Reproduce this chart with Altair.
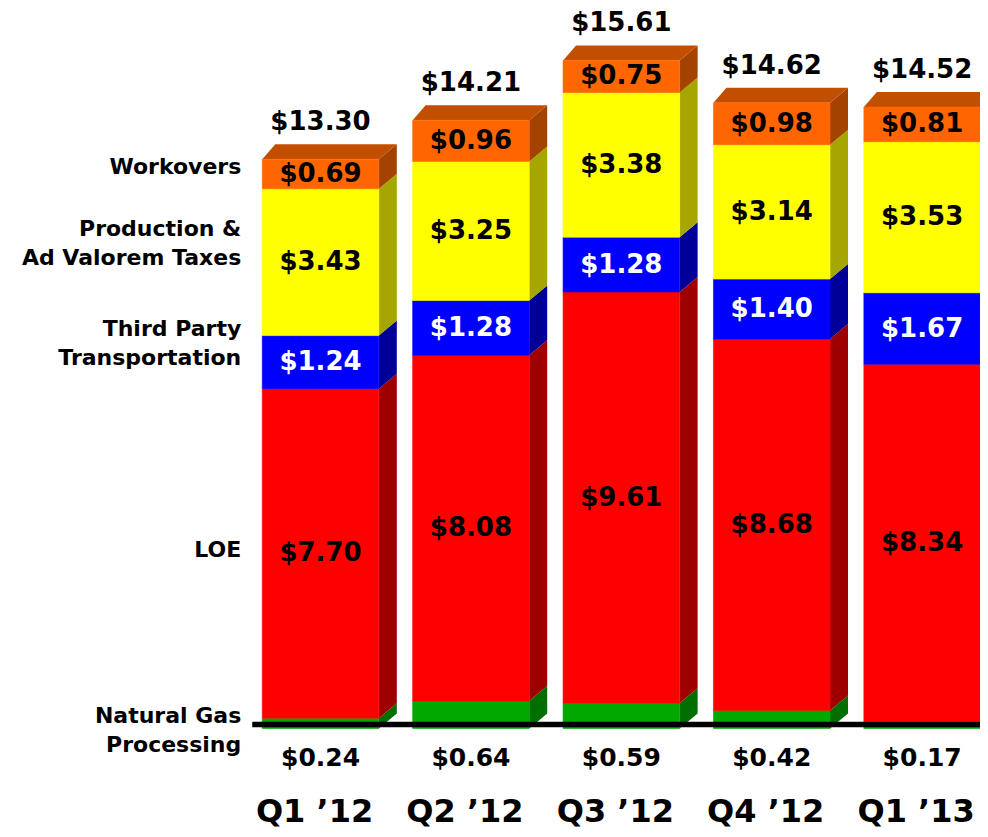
import altair as alt
import pandas as pd

# ---------------- data ----------------
QUARTERS = ["Q1 \u201912", "Q2 \u201912", "Q3 \u201912", "Q4 \u201912", "Q1 \u201913"]
SERIES = ["Natural Gas Processing", "LOE", "Third Party Transportation",
          "Production & Ad Valorem Taxes", "Workovers"]
NAT_GAS = [0.24, 0.64, 0.59, 0.42, 0.17]
LOE = [7.70, 8.08, 9.61, 8.68, 8.34]
THIRD_PARTY = [1.24, 1.28, 1.28, 1.40, 1.67]
PROD_TAX = [3.43, 3.25, 3.38, 3.14, 3.53]
WORKOVERS = [0.69, 0.96, 0.75, 0.98, 0.81]
TOTALS = [13.30, 14.21, 15.61, 14.62, 14.52]
SERIES_LABELS = ["Natural Gas\nProcessing", "LOE", "Third Party\nTransportation",
                 "Production &\nAd Valorem Taxes", "Workovers"]
SERIES_LABEL_Y = [0.30, 4.17, 9.33, 11.67, 13.13]   # first-line positions

# ---------------- style ----------------
FRONT = ["#00A800", "#FF0000", "#0000FF", "#FFFF00", "#FF6600"]
SIDE = ["#006E00", "#9E0000", "#000099", "#A6A600", "#A44200"]
TOP = "#C24F00"
TEXT_COL = ["black", "black", "white", "black", "black"]
FONT = "DejaVu Sans"

W, H = 972, 821
PPU_X, PPU_Y = 150.4, 42.8
XMIN = -2.078
XMAX = XMIN + W / PPU_X
YMAX = 720.5 / PPU_Y
YMIN = -(H - 720.5) / PPU_Y
BW = 0.775                 # front face width (category units)
DXR, DXL, DY = 18 / PPU_X, 13 / PPU_X, 15 / PPU_Y

xs = alt.Scale(domain=[XMIN, XMAX], nice=False, zero=False)
ys = alt.Scale(domain=[YMIN, YMAX], nice=False, zero=False)

values = [NAT_GAS, LOE, THIRD_PARTY, PROD_TAX, WORKOVERS]

front_rows, side_rows, top_rows = [], [], []
for i, q in enumerate(QUARTERS):
    base = 0.0
    for s, name in enumerate(SERIES):
        v = values[s][i]
        y0, y1 = base, base + v
        left, right = i - BW / 2, i + BW / 2
        front_rows.append(dict(q=q, series=name, x0=left, x1=right, xc=i,
                               y0=y0, y1=y1, ym=(y0 + y1) / 2,
                               c=FRONT[s], tc=TEXT_COL[s],
                               lab=f"${v:.2f}", show=int(s > 0)))
        seg = f"{q}|{name}"
        side_rows.append(dict(seg=seg, sx=right, sy=y0, sy2=y1, c=SIDE[s]))
        side_rows.append(dict(seg=seg, sx=right + DXR, sy=y0 + DY, sy2=y1 + DY, c=SIDE[s]))
        base = y1
    left, right = i - BW / 2, i + BW / 2
    top_rows.append(dict(q=q, ty=base, tx=left, tx2=right))
    top_rows.append(dict(q=q, ty=base + DY, tx=left + DXL, tx2=right + DXR))

front = pd.DataFrame(front_rows)
seg_lab = front[front["show"] == 1]
side = pd.DataFrame(side_rows)
top = pd.DataFrame(top_rows)
tot = pd.DataFrame(dict(q=QUARTERS, xc=list(range(len(QUARTERS))), t=TOTALS,
                        zero=[0.0] * len(QUARTERS),
                        lab=[f"${v:.2f}" for v in TOTALS],
                        g=[f"${v:.2f}" for v in NAT_GAS]))
ser = pd.DataFrame(dict(lab=SERIES_LABELS, y=SERIES_LABEL_Y,
                        x=[-BW / 2] * len(SERIES_LABELS)))
axis_line = pd.DataFrame(dict(x=[-BW / 2 - 10 / PPU_X], x2=[len(QUARTERS) - 1 + BW / 2], y=[0.0]))

side_l = alt.Chart(side).mark_area().encode(
    x=alt.X("sx:Q", scale=xs, axis=None),
    y=alt.Y("sy:Q", scale=ys, axis=None, stack=None),
    y2="sy2:Q",
    detail="seg:N",
    color=alt.Color("c:N", scale=None),
)

top_l = alt.Chart(top).mark_area(orient="horizontal", color=TOP).encode(
    y=alt.Y("ty:Q", scale=ys, axis=None),
    x=alt.X("tx:Q", scale=xs, axis=None, stack=None),
    x2="tx2:Q",
    detail="q:N",
)

front_l = alt.Chart(front).mark_rect(strokeWidth=0.6).encode(
    x=alt.X("x0:Q", scale=xs, axis=None),
    x2="x1:Q",
    y=alt.Y("y0:Q", scale=ys, axis=None),
    y2="y1:Q",
    color=alt.Color("c:N", scale=None),
    stroke=alt.Stroke("c:N", scale=None),
)

base_rule = alt.Chart(axis_line).mark_rule(color="black", strokeWidth=5.5, yOffset=-4).encode(
    x=alt.X("x:Q", scale=xs, axis=None),
    x2="x2:Q",
    y=alt.Y("y:Q", scale=ys, axis=None),
)

seg_text = alt.Chart(seg_lab).mark_text(
    font=FONT, fontSize=26, fontWeight="bold", baseline="middle", align="center"
).encode(
    x=alt.X("xc:Q", scale=xs, axis=None),
    y=alt.Y("ym:Q", scale=ys, axis=None),
    text="lab:N",
    color=alt.Color("tc:N", scale=None),
)

tot_text = alt.Chart(tot).mark_text(
    font=FONT, fontSize=26, fontWeight="bold", baseline="middle", dy=-37, color="black"
).encode(
    x=alt.X("xc:Q", scale=xs, axis=None),
    y=alt.Y("t:Q", scale=ys, axis=None),
    text="lab:N",
)

gas_text = alt.Chart(tot).mark_text(
    font=FONT, fontSize=25, fontWeight="bold", baseline="middle", dy=29, color="black"
).encode(
    x=alt.X("xc:Q", scale=xs, axis=None),
    y=alt.Y("zero:Q", scale=ys, axis=None),
    text="g:N",
)

cat_text = alt.Chart(tot).mark_text(
    font=FONT, fontSize=32, fontWeight="bold", baseline="alphabetic", dy=93, dx=-6,
    color="black"
).encode(
    x=alt.X("xc:Q", scale=xs, axis=None),
    y=alt.Y("zero:Q", scale=ys, axis=None),
    text="q:N",
)

ser_text = alt.Chart(ser).mark_text(
    font=FONT, fontSize=22, fontWeight="bold", baseline="middle", align="right",
    lineBreak="\n", lineHeight=29, dx=-21, color="black"
).encode(
    x=alt.X("x:Q", scale=xs, axis=None),
    y=alt.Y("y:Q", scale=ys, axis=None),
    text="lab:N",
)

chart = alt.layer(
    side_l, top_l, front_l, base_rule, seg_text, tot_text, gas_text, cat_text, ser_text
).properties(
    width=W, height=H, autosize="none", padding=0
).configure_view(stroke=None)

chart.save("out.html", embed_options={"renderer": "svg", "actions": False})
